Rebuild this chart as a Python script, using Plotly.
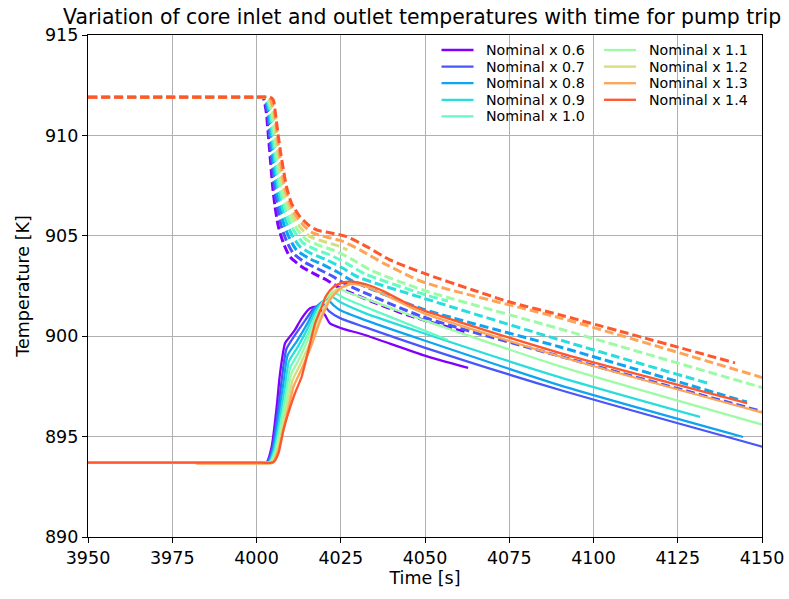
import plotly.graph_objects as go

# Core inlet (solid) and outlet (dashed) temperatures for each flow multiplier
labels = ["Nominal x 0.6", "Nominal x 0.7", "Nominal x 0.8", "Nominal x 0.9", "Nominal x 1.0",
          "Nominal x 1.1", "Nominal x 1.2", "Nominal x 1.3", "Nominal x 1.4"]
colors = ["rgb(128,0,255)", "rgb(71,87,251)", "rgb(14,164,240)", "rgb(42,221,221)", "rgb(99,251,195)",
          "rgb(156,251,164)", "rgb(213,221,128)", "rgb(255,164,87)", "rgb(255,87,44)"]

# ---- inlet temperatures [K] vs time [s]
t_in_06 = [3950, 4001.5, 4003.0, 4004.5, 4006.0, 4007.0, 4008.5, 4009.9, 4011.4, 4013.4, 4015.9, 4018.3, 4020.3, 4021.8, 4025.3, 4032.2, 4049.4, 4062.8]
T_in_06 = [893.7, 893.7, 893.72, 894.5, 896.5, 898.17, 899.66, 899.98, 900.31, 900.89, 901.39, 901.47, 901.06, 900.64, 900.39, 900.06, 899.06, 898.42]
t_in_07 = [3950, 4001.5, 4003.25, 4004.75, 4006.5, 4007.6, 4008.85, 4011.6, 4014.5, 4016.8, 4019.5, 4021.5, 4024.8, 4032.2, 4049.4, 4090.1, 4150.5]
T_in_07 = [893.7, 893.7, 893.72, 894.45, 896.5, 898.0, 899.35, 900.1, 900.8, 901.35, 901.63, 901.25, 900.9, 900.45, 899.46, 897.32, 894.48]
t_in_08 = [3950, 4001.5, 4003.5, 4005.0, 4007.0, 4008.1, 4009.2, 4011.9, 4015.0, 4017.5, 4020.8, 4022.8, 4024.8, 4032.2, 4049.4, 4090.1, 4144.4]
T_in_08 = [893.7, 893.7, 893.72, 894.4, 896.5, 897.8, 899.04, 899.73, 900.6, 901.4, 901.85, 901.55, 901.3, 900.8, 899.81, 897.55, 894.98]
t_in_09 = [3950, 4001.5, 4003.75, 4005.25, 4007.5, 4008.6, 4009.6, 4012.15, 4015.2, 4017.9, 4022.0, 4024.8, 4032.2, 4049.4, 4090.1, 4131.6]
T_in_09 = [893.7, 893.7, 893.72, 894.35, 896.5, 897.65, 898.73, 899.44, 900.4, 901.35, 902.0, 901.7, 901.15, 900.16, 897.95, 895.98]
t_in_10 = [3950, 4001.5, 4004.0, 4005.5, 4008.05, 4009.0, 4009.95, 4012.4, 4015.5, 4018.3, 4020.5, 4023.3, 4026.0, 4034.6, 4056.8]
T_in_10 = [893.7, 893.7, 893.72, 894.3, 896.5, 897.45, 898.42, 899.15, 900.2, 901.3, 901.9, 902.15, 901.9, 901.3, 899.81]
t_in_11 = [3950, 4001.5, 4004.25, 4005.75, 4008.55, 4010.3, 4012.65, 4015.7, 4018.5, 4021.0, 4024.5, 4027.5, 4037.6, 4049.4, 4090.1, 4150.5]
T_in_11 = [893.7, 893.7, 893.72, 894.25, 896.5, 898.1, 898.86, 900.0, 901.25, 902.0, 902.35, 902.15, 901.55, 900.81, 898.5, 895.58]
t_in_12 = [3950, 4001.5, 4004.5, 4006.0, 4009.05, 4010.7, 4012.9, 4016.0, 4018.8, 4021.3, 4024.0, 4027.0]
T_in_12 = [893.7, 893.7, 893.72, 894.2, 896.5, 897.8, 898.57, 899.7, 900.9, 901.8, 902.35, 902.5]
t_in_13 = [3982, 4001.5, 4004.75, 4006.25, 4009.6, 4011.0, 4013.15, 4016.2, 4019.0, 4021.8, 4025.0, 4028.0, 4032.0, 4037.6, 4049.4, 4090.1, 4150.5]
T_in_13 = [893.66, 893.66, 893.7, 894.2, 896.5, 897.5, 898.28, 899.5, 900.8, 901.8, 902.4, 902.6, 902.5, 902.1, 901.16, 898.99, 896.18]
t_in_14 = [3950, 4001.5, 4005.0, 4006.5, 4008.0, 4009.4, 4011.4, 4013.4, 4015.4, 4017.4, 4019.4, 4020.6, 4022.7, 4025.4, 4028.3, 4032.2, 4037.6, 4044.6, 4049.4, 4090.1, 4145.6]
T_in_14 = [893.7, 893.7, 893.72, 894.17, 895.33, 896.16, 897.16, 897.98, 899.31, 900.64, 901.47, 902.0, 902.43, 902.67, 902.72, 902.6, 902.25, 901.64, 901.3, 899.16, 896.67]

# ---- outlet temperatures [K] vs time [s]
t_out_06 = [3950, 4000.0, 4001.9, 4002.8, 4003.8, 4004.8, 4005.5, 4006.5, 4008.0, 4009.9, 4013.4, 4016.9, 4020.8, 4024.8, 4034.6, 4044.7, 4062.8]
T_out_06 = [911.9, 911.9, 911.88, 911.27, 909.43, 907.44, 906.45, 905.45, 904.63, 903.96, 903.46, 903.13, 902.80, 902.40, 901.70, 901.06, 900.16]
t_out_07 = [3950, 4000.0, 4002.16, 4003.14, 4004.19, 4005.31, 4006.19, 4007.3, 4008.93, 4010.9, 4014.45, 4018.13, 4022.29, 4026.65, 4049.4, 4090.1, 4150.5]
T_out_07 = [911.9, 911.9, 911.88, 911.27, 909.43, 907.44, 906.45, 905.51, 904.74, 904.13, 903.67, 903.36, 903.01, 902.58, 900.96, 899.0, 896.23]
t_out_08 = [3950, 4000.0, 4002.42, 4003.48, 4004.58, 4005.82, 4006.88, 4008.1, 4009.85, 4011.9, 4015.5, 4019.35, 4023.78, 4028.5, 4049.4, 4090.1, 4145.5]
T_out_08 = [911.9, 911.9, 911.88, 911.27, 909.43, 907.44, 906.45, 905.58, 904.86, 904.29, 903.88, 903.59, 903.22, 902.75, 901.35, 899.46, 896.72]
t_out_09 = [3950, 4000.0, 4002.68, 4003.82, 4004.97, 4006.33, 4007.57, 4008.9, 4010.78, 4012.9, 4016.55, 4020.58, 4025.26, 4030.35, 4049.4, 4090.1, 4133.7]
T_out_09 = [911.9, 911.9, 911.88, 911.27, 909.43, 907.44, 906.45, 905.64, 904.97, 904.46, 904.09, 903.82, 903.42, 902.93, 901.9, 899.81, 897.67]
t_out_10 = [3950, 4000.0, 4002.94, 4004.16, 4005.36, 4006.84, 4008.26, 4009.7, 4011.7, 4013.9, 4017.6, 4021.8, 4026.75, 4032.2, 4049.4, 4056.8]
T_out_10 = [911.9, 911.9, 911.88, 911.27, 909.43, 907.44, 906.45, 905.70, 905.09, 904.63, 904.31, 904.05, 903.63, 903.10, 902.1, 901.75]
t_out_11 = [3950, 4000.0, 4003.2, 4004.5, 4005.75, 4007.35, 4008.95, 4010.5, 4012.63, 4014.9, 4018.65, 4023.03, 4028.24, 4034.05, 4049.4, 4090.1, 4150.5]
T_out_11 = [911.9, 911.9, 911.88, 911.27, 909.43, 907.44, 906.45, 905.76, 905.20, 904.79, 904.52, 904.27, 903.84, 903.28, 902.3, 900.36, 897.42]
t_out_12 = [3950, 4000.0, 4003.46, 4004.84, 4006.14, 4007.86, 4009.64, 4011.3, 4013.55, 4015.9, 4019.7, 4024.25, 4027.0]
T_out_12 = [911.9, 911.9, 911.88, 911.27, 909.43, 907.44, 906.45, 905.83, 905.31, 904.96, 904.73, 904.50, 904.3]
t_out_13 = [3950, 4000.0, 4003.72, 4005.18, 4006.53, 4008.37, 4010.33, 4012.1, 4014.48, 4016.9, 4020.75, 4025.48, 4031.21, 4037.75, 4049.4, 4090.1, 4150.5]
T_out_13 = [911.9, 911.9, 911.88, 911.27, 909.43, 907.44, 906.45, 905.89, 905.43, 905.13, 904.94, 904.73, 904.25, 903.63, 902.7, 900.91, 897.92]
t_out_14 = [3950, 4000.0, 4004.0, 4005.0, 4005.5, 4006.0, 4006.5, 4007.2, 4008.0, 4008.9, 4010.4, 4012.9, 4015.4, 4017.9, 4021.8, 4026.7, 4032.7, 4039.6, 4049.4, 4064.2, 4075.2, 4090.1, 4142.0]
T_out_14 = [911.9, 911.9, 911.9, 911.76, 911.27, 910.60, 909.94, 909.11, 908.28, 907.45, 906.62, 905.95, 905.54, 905.29, 905.15, 904.96, 904.46, 903.80, 903.15, 902.30, 901.70, 901.06, 898.67]

inlet = [(t_in_06, T_in_06), (t_in_07, T_in_07), (t_in_08, T_in_08), (t_in_09, T_in_09), (t_in_10, T_in_10),
         (t_in_11, T_in_11), (t_in_12, T_in_12), (t_in_13, T_in_13), (t_in_14, T_in_14)]
outlet = [(t_out_06, T_out_06), (t_out_07, T_out_07), (t_out_08, T_out_08), (t_out_09, T_out_09), (t_out_10, T_out_10),
          (t_out_11, T_out_11), (t_out_12, T_out_12), (t_out_13, T_out_13), (t_out_14, T_out_14)]

FONT = "DejaVu Sans"
fig = go.Figure()

for i, name in enumerate(labels):
    fig.add_trace(go.Scatter(
        x=inlet[i][0], y=inlet[i][1], mode="lines", name=name + " inlet",
        line=dict(color=colors[i], width=2.3, shape="spline", smoothing=0.6),
        showlegend=False))
    fig.add_trace(go.Scatter(
        x=outlet[i][0], y=outlet[i][1], mode="lines", name=name + " outlet",
        line=dict(color=colors[i], width=3, dash="9px,4px", shape="spline", smoothing=0.6),
        showlegend=False))

# Two-column key in the upper right corner of the axes (paper coordinates)
key_shapes, key_notes = [], []
col_line_x = [(0.5245, 0.572), (0.7656, 0.813)]
col_text_x = [0.589, 0.8305]
for i, name in enumerate(labels):
    col, row = divmod(i, 5)
    yk = 1 - (50 + 16.6 * row - 35) / 502
    x0, x1 = col_line_x[col]
    key_shapes.append(dict(type="line", xref="paper", yref="paper", x0=x0, x1=x1, y0=yk, y1=yk,
                           line=dict(color=colors[i], width=2.3)))
    key_notes.append(dict(text=name, xref="paper", yref="paper", x=col_text_x[col], y=yk,
                          xanchor="left", yanchor="middle", showarrow=False, borderpad=0,
                          font=dict(family=FONT, size=14.2, color="black")))

axis_common = dict(
    showline=True, linecolor="black", linewidth=1.2, mirror=True,
    ticks="outside", ticklen=5, tickwidth=1.2, tickcolor="black",
    showgrid=True, gridcolor="#b0b0b0", gridwidth=1.3, zeroline=False,
    automargin=False,
    tickfont=dict(family=FONT, size=17.5, color="black"),
)

fig.update_layout(
    width=789, height=599,
    margin=dict(l=88, r=27, t=35, b=62),
    paper_bgcolor="white", plot_bgcolor="white",
    title=dict(text="Variation of core inlet and outlet temperatures with time for pump trip",
               x=0.535, xanchor="center", y=0.972, yanchor="middle",
               font=dict(family=FONT, size=20.4, color="black"), automargin=False),
    xaxis=dict(range=[3950, 4150], tickvals=[3950, 3975, 4000, 4025, 4050, 4075, 4100, 4125, 4150],
               title=dict(text="Time [s]", font=dict(family=FONT, size=17.5, color="black"), standoff=4),
               **axis_common),
    yaxis=dict(range=[890, 915], tickvals=[890, 895, 900, 905, 910, 915],
               title=dict(text="Temperature [K]", font=dict(family=FONT, size=17.5, color="black"), standoff=10),
               **axis_common),
    shapes=key_shapes,
    annotations=key_notes,
    showlegend=False,
)

fig.write_html("out.html")
